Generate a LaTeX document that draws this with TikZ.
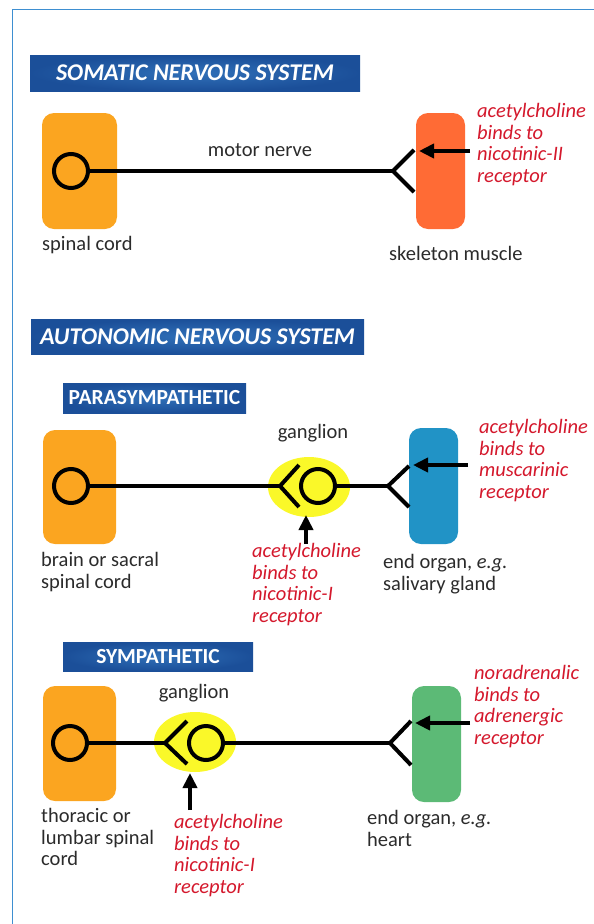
\documentclass[tikz,border=0pt]{standalone}
\usepackage{fontspec}
\setmainfont{Carlito}
\usetikzlibrary{arrows.meta,shapes.geometric}
\definecolor{cordorange}{HTML}{FBA520}
\definecolor{muscleorange}{HTML}{FF6B35}
\definecolor{glandblue}{HTML}{2193C6}
\definecolor{heartgreen}{HTML}{5CBA76}
\definecolor{gangyellow}{HTML}{FAF829}
\definecolor{notered}{HTML}{D4182C}
\definecolor{darktext}{HTML}{2B2B2B}
\definecolor{frameblue}{HTML}{3E8FD1}
\definecolor{headlight}{HTML}{3070B8}
\definecolor{headdark}{HTML}{1B4F99}
\begin{document}
\begin{tikzpicture}[x=1pt,y=-1pt,
  box/.style={rounded corners=12pt,inner sep=0,minimum width=49pt,minimum height=116pt},
  soma/.style={circle,draw,line width=4pt,minimum size=34pt,inner sep=0},
  gang/.style={ellipse,fill=gangyellow,minimum width=82pt,minimum height=60pt,inner sep=0},
  nerve/.style={line width=4pt},
  bind/.style={line width=4pt,-{Triangle[length=15pt,width=14pt]}},
  txt/.style={font=\fontsize{20.5}{21.5}\selectfont,text=darktext,inner sep=0,align=left},
  note/.style={txt,text=notered,font=\fontsize{20.5}{21.5}\selectfont\itshape},
  head/.style={inner color=headlight,outer color=headdark,text=white,inner sep=0,
    font=\fontsize{24}{27}\selectfont\bfseries\itshape},
  subhead/.style={head,font=\fontsize{21.5}{25}\selectfont\bfseries}]
\useasboundingbox (0,0) rectangle (594,924);
\draw[frameblue,line width=1.5pt] (12.5,924) -- (12.5,9.5) -- (594,9.5);

% somatic
\node[head,minimum width=330pt,minimum height=36pt] (somatic) at (195,73) {SOMATIC NERVOUS SYSTEM};
\node[box,fill=cordorange,minimum width=75pt] (cord1) at (79.5,171) {};
\node[box,fill=muscleorange] (muscle) at (440.5,171) {};
\node[soma] (s1) at (71,171) {};
\coordinate (f1) at (393,171);
\draw[nerve] (s1) -- (f1);
\draw[nerve] (f1) ++(21,-21) -- (f1) -- ++(21,21);
\node[txt] (motor) at (260,150) {motor nerve};
\node[txt,anchor=west] (cordlbl1) at (42,245) {spinal cord};
\node[txt,anchor=west] (musclelbl) at (389,253) {skeleton muscle};
\node[note,anchor=north west] (note1) at (477,103.5) {acetylcholine\\binds to\\nicotinic-II\\receptor};
\coordinate (t1) at (470,151);
\coordinate (r1) at (419,151);
\draw[bind] (t1) -- (r1);

% autonomic
\node[head,minimum width=333pt,minimum height=35pt] (autonomic) at (197.5,336.5) {AUTONOMIC NERVOUS SYSTEM};

% parasympathetic
\node[subhead,minimum width=183pt,minimum height=30pt] (para) at (154.5,398) {PARASYMPATHETIC};
\node[box,fill=cordorange,minimum width=73pt,minimum height=114pt] (cord2) at (79.5,487) {};
\node[box,fill=glandblue] (gland) at (433.5,486) {};
\node[gang] (g2) at (309,487) {};
\node[soma] (s2) at (71,486) {};
\node[soma] (gs2) at (318,486) {};
\coordinate (gf2) at (280,486);
\coordinate (f2) at (388,486);
\draw[nerve] (s2) -- (gf2);
\draw[nerve] (gf2) ++(19,-21) -- (gf2) -- ++(19,21);
\draw[nerve] (gs2) -- (f2);
\draw[nerve] (f2) ++(21,-20) -- (f2) -- ++(21,21);
\node[txt] (gl2) at (313,433) {ganglion};
\node[txt,anchor=north west] (cordlbl2) at (41,552.5) {brain or sacral\\spinal cord};
\node[txt,anchor=north west] (glandlbl) at (383,554.5) {end organ, \textit{e.g.}\\salivary gland};
\node[note,anchor=north west] (note2) at (479,419.5) {acetylcholine\\binds to\\muscarinic\\receptor};
\node[note,anchor=north west] (note3) at (252,543.5) {acetylcholine\\binds to\\nicotinic-I\\receptor};
\coordinate (t2) at (468,465);
\coordinate (r2) at (413,465);
\draw[bind] (t2) -- (r2);
\coordinate (t3) at (306,544);
\coordinate (r3) at (306,515);
\draw[bind] (t3) -- (r3);

% sympathetic
\node[subhead,minimum width=190pt,minimum height=29pt] (sym) at (158,656.5) {SYMPATHETIC};
\node[box,fill=cordorange,minimum width=73pt,minimum height=115pt] (cord3) at (79.5,743.5) {};
\node[box,fill=heartgreen] (heart) at (436.5,744) {};
\node[gang] (g3) at (195,742) {};
\node[soma] (s3) at (70,743) {};
\node[soma] (gs3) at (206,743) {};
\coordinate (gf3) at (165,743);
\coordinate (f3) at (390,743);
\draw[nerve] (s3) -- (gf3);
\draw[nerve] (gf3) ++(22,-22) -- (gf3) -- ++(22,21);
\draw[nerve] (gs3) -- (f3);
\draw[nerve] (f3) ++(21,-22) -- (f3) -- ++(21,22);
\node[txt] (gl3) at (194,693) {ganglion};
\node[txt,anchor=north west] (cordlbl3) at (41,808.5) {thoracic or\\lumbar spinal\\cord};
\node[txt,anchor=north west] (heartlbl) at (367,810.5) {end organ, \textit{e.g.}\\heart};
\node[note,anchor=north west] (note4) at (474,665.5) {noradrenalic\\binds to\\adrenergic\\receptor};
\node[note,anchor=north west] (note5) at (174,814.5) {acetylcholine\\binds to\\nicotinic-I\\receptor};
\coordinate (t4) at (470,723);
\coordinate (r4) at (415,723);
\draw[bind] (t4) -- (r4);
\coordinate (t5) at (190,810);
\coordinate (r5) at (190,773);
\draw[bind] (t5) -- (r5);
\end{tikzpicture}
\end{document}
